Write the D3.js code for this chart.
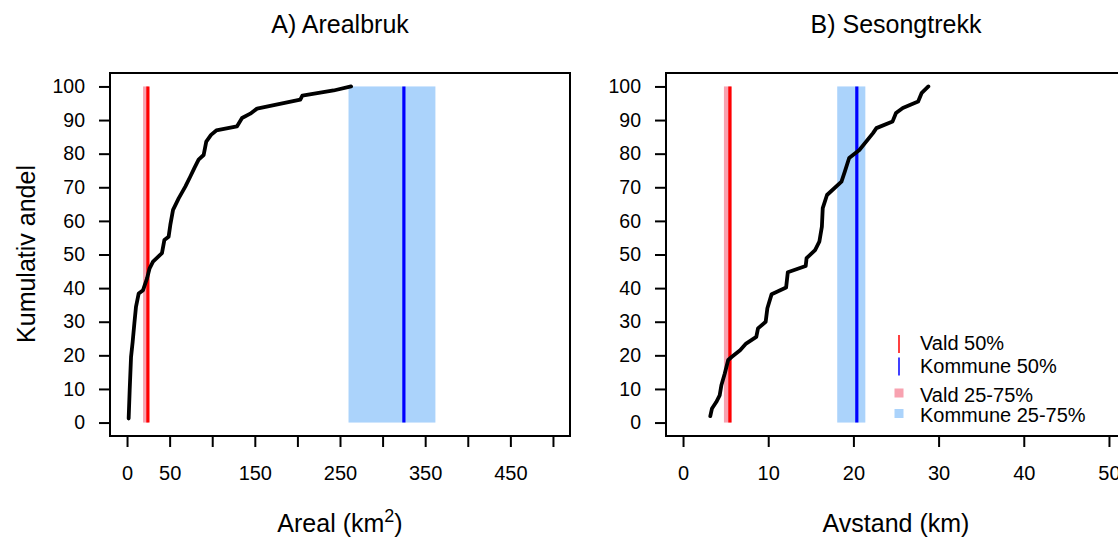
<!DOCTYPE html>
<html><head><meta charset="utf-8">
<script src="https://cdn.jsdelivr.net/npm/d3@7"></script>
<style>body{margin:0;background:#fff}svg{display:block}text{font-family:"Liberation Sans",Arial,sans-serif;fill:#000}</style>
</head><body><svg id="c" width="1118" height="538"></svg>
<script>
// ---- data ----
const yTicks = [0,10,20,30,40,50,60,70,80,90,100];
const areaTicks = [0,50,100,150,200,250,300,350,400,450,500];
const areaTickLabels = ["0","50","","150","","250","","350","","450",""];
const distTicks = [0,10,20,30,40,50];
const distTickLabels = ["0","10","20","30","40","50"];

const areaX = [1.9,3.1,4.7,6.6,8.6,10.5,13.7,18.8,23.5,26.5,30.5,41,43.8,48.8,50.8,54,60.6,68.4,74.3,79,84,89.9,93,98.6,104.8,129,135,144.7,152.6,203.4,205.8,242.5,263];
const areaY = [1.2,9.6,19.5,24,29.5,34.4,38.4,39.4,42.9,45.9,47.9,50.4,54.3,55.3,58.8,63.3,66.7,70.2,73.2,75.7,78.2,79.6,83.6,85.6,86.9,88.1,90.6,91.9,93.4,96.1,97.3,98.8,100];
const areaValdIQR = [18.8, 25.2];
const areaValdMedian = 24.5;
const areaKommuneIQR = [260, 362];
const areaKommuneMedian = 325;

const distX = [3.2,3.4,3.9,4.3,4.5,4.9,5.3,5.7,6.7,7.4,8.6,8.8,9.7,9.9,10.4,12.1,12.3,14.4,14.5,15.5,16,16.3,16.4,16.9,18.6,19,19.5,20.7,22.3,22.7,24.6,25,25.8,27.6,28,28.8];
const distY = [1.9,4.2,6.1,8.1,11.1,14.6,18.6,19.5,21.5,23.5,25.5,28,30,34,38.2,40.2,44.7,46.6,48.9,51.3,53.8,58.3,63.8,67.7,71.7,74.7,78.7,81.1,86.1,87.6,89.6,92.1,93.6,95.5,98,100];
const distValdIQR = [4.8, 5.7];
const distValdMedian = 5.5;
const distKommuneIQR = [18.1, 21.4];
const distKommuneMedian = 20.4;

const legendLabels = ["Vald 50%","Kommune 50%","Vald 25-75%","Kommune 25-75%"];
const titles = ["A) Arealbruk","B) Sesongtrekk"];

// ---- styles ----
const RED="#ff0000", BLUE="#0000ff", PINK="#f8a2b0", LBLUE="#abd3fb";
const svg = d3.select("#c");
const plotTop=73, plotBottom=436;
const y = d3.scaleLinear().domain([-4,104]).range([plotBottom, plotTop]);

function panel(left, right, xmax, ticks, tickLabels, xs, ys, vIQR, vMed, kIQR, kMed, title) {
  const pad = xmax*0.04;
  const x = d3.scaleLinear().domain([-pad, xmax+pad]).range([left, right]);
  const g = svg.append("g");
  [[kIQR,LBLUE],[vIQR,PINK]].forEach(([b,c])=>{
    g.append("rect").attr("x",x(b[0])).attr("width",x(b[1])-x(b[0]))
      .attr("y",y(100)).attr("height",y(0)-y(100)).attr("fill",c);
  });
  [[vMed,RED],[kMed,BLUE]].forEach(([m,c])=>{
    g.append("line").attr("x1",x(m)).attr("x2",x(m)).attr("y1",y(0)).attr("y2",y(100))
      .attr("stroke",c).attr("stroke-width",3.2);
  });
  const pts = xs.map((v,i)=>[v,ys[i]]);
  g.append("path").attr("d", d3.line().x(d=>x(d[0])).y(d=>y(d[1]))(pts))
    .attr("fill","none").attr("stroke","#000").attr("stroke-width",3.8)
    .attr("stroke-linejoin","round").attr("stroke-linecap","round");
  g.append("rect").attr("x",left).attr("y",plotTop).attr("width",right-left).attr("height",plotBottom-plotTop)
    .attr("fill","none").attr("stroke","#000").attr("stroke-width",2);
  const xa = d3.axisBottom(x).tickValues(ticks).tickSize(11).tickPadding(19)
    .tickFormat((d,i)=>tickLabels[i]);
  const gx = g.append("g").attr("transform",`translate(0,${plotBottom})`).call(xa);
  gx.select(".domain").remove();
  gx.selectAll(".tick line").attr("stroke","#000").attr("stroke-width",2);
  gx.selectAll(".tick text").attr("font-size",20).attr("font-family","Liberation Sans, Arial, sans-serif");
  const ya = d3.axisLeft(y).tickValues(yTicks).tickSize(11).tickPadding(14);
  const gy = g.append("g").attr("transform",`translate(${left},0)`).call(ya);
  gy.select(".domain").remove();
  gy.selectAll(".tick line").attr("stroke","#000").attr("stroke-width",2);
  gy.selectAll(".tick text").attr("font-size",19.5).attr("font-family","Liberation Sans, Arial, sans-serif");
  g.append("text").attr("x",(left+right)/2).attr("y",33).attr("text-anchor","middle")
    .attr("font-size",25).text(title);
  return x;
}

panel(110, 570, 500, areaTicks, areaTickLabels, areaX, areaY, areaValdIQR, areaValdMedian, areaKommuneIQR, areaKommuneMedian, titles[0]);
panel(666, 1126, 50, distTicks, distTickLabels, distX, distY, distValdIQR, distValdMedian, distKommuneIQR, distKommuneMedian, titles[1]);

const xl = svg.append("text").attr("x",340).attr("y",532).attr("text-anchor","middle").attr("font-size",25);
xl.append("tspan").text("Areal (km");
xl.append("tspan").attr("font-size",18).attr("dy",-10).text("2");
xl.append("tspan").attr("dy",10).text(")");
svg.append("text").attr("x",896).attr("y",532).attr("text-anchor","middle").attr("font-size",25).text("Avstand (km)");
svg.append("text").attr("transform","translate(35,254) rotate(-90)").attr("text-anchor","middle")
  .attr("font-size",25).text("Kumulativ andel");

const lg = svg.append("g");
const lx = 899, tx = 920;
const rows = [{y:350, t:"line", c:RED},{y:372.5, t:"line", c:BLUE},{y:401.5, t:"sq", c:PINK},{y:422, t:"sq", c:LBLUE}];
rows.forEach((r,i)=>{
  if (r.t==="line") lg.append("line").attr("x1",lx).attr("x2",lx).attr("y1",r.y-15).attr("y2",r.y+3).attr("stroke",r.c).attr("stroke-width",1.5);
  else lg.append("rect").attr("x",lx-4.5).attr("y",r.y-13).attr("width",9).attr("height",9).attr("fill",r.c);
  lg.append("text").attr("x",tx).attr("y",r.y).attr("font-size",20).text(legendLabels[i]);
});
</script></body></html>
